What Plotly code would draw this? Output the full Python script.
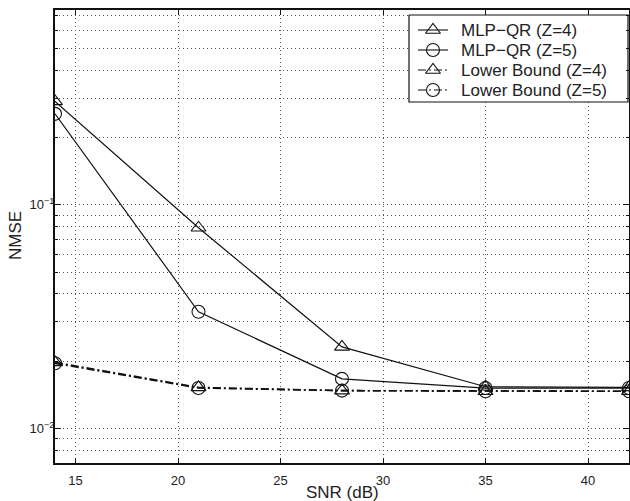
import plotly.graph_objects as go

# SNR points (dB)
snr_db = [14, 21, 28, 35, 42]

# NMSE per method
mlp_qr_z4 = [0.290, 0.079, 0.0232, 0.0154, 0.0153]
mlp_qr_z5 = [0.255, 0.0333, 0.0167, 0.0152, 0.0152]
lower_bound_z4 = [0.0198, 0.0153, 0.0148, 0.0147, 0.0147]
lower_bound_z5 = [0.0196, 0.0152, 0.0148, 0.0147, 0.0147]

series_names = ["MLP\u2212QR (Z=4)", "MLP\u2212QR (Z=5)",
                "Lower Bound (Z=4)", "Lower Bound (Z=5)"]

x_title = "SNR (dB)"
y_title = "NMSE"
x_ticks = [15, 20, 25, 30, 35, 40]
y_major = [0.01, 0.1]
y_major_text = ["10<sup>\u22122</sup>", "10<sup>\u22121</sup>"]
y_minor = [0.008, 0.009, 0.02, 0.03, 0.04, 0.05, 0.06, 0.07, 0.08, 0.09,
           0.2, 0.3, 0.4, 0.5, 0.6, 0.7]

FONT = "Liberation Sans, Arial, Helvetica, sans-serif"
INK = "#111111"
TXT = "#222222"
GRID = "#555555"
DASHDOT = "8px,3px,2px,3px"

W, H = 630, 501
ML, MR, MT, MB = 55, 1, 10, 38
PW, PH = W - ML - MR, H - MT - MB


def px_to_paper(px, py):
    """Page pixel position -> paper coordinates (relative to the plot area)."""
    return (px - ML) / PW, 1 - (py - MT) / PH


fig = go.Figure()

styles = [
    (mlp_qr_z4, "triangle-up-open", "solid", 1.2),
    (mlp_qr_z5, "circle-open", "solid", 1.2),
    (lower_bound_z4, "triangle-up-open", DASHDOT, 1.6),
    (lower_bound_z5, "circle-open", DASHDOT, 1.6),
]

for name, (vals, sym, dash, lw) in zip(series_names, styles):
    fig.add_trace(go.Scatter(
        x=snr_db, y=vals, name=name, mode="lines+markers", showlegend=False,
        line=dict(color=INK, width=lw, dash=dash),
        marker=dict(symbol=sym, size=13, color=INK, line=dict(width=1.1, color=INK)),
    ))

# Boxed legend, laid out in page pixels on a hidden overlay axis pair
box_x0, box_x1, box_y0, box_y1 = 409, 628, 15, 102
row_y0, row_step = 30, 20
sample_x0, sample_x1, text_x = 418, 448, 459

fig.add_trace(go.Scatter(
    x=[box_x0, box_x1, box_x1, box_x0, box_x0],
    y=[box_y0, box_y0, box_y1, box_y1, box_y0],
    xaxis="x2", yaxis="y2", mode="lines", fill="toself", fillcolor="white",
    line=dict(color=INK, width=1.2), showlegend=False, hoverinfo="skip",
))

for i, (name, (vals, sym, dash, lw)) in enumerate(zip(series_names, styles)):
    ry = row_y0 + i * row_step
    fig.add_trace(go.Scatter(
        x=[sample_x0, sample_x1], y=[ry, ry], xaxis="x2", yaxis="y2",
        mode="lines", showlegend=False, hoverinfo="skip",
        line=dict(color=INK, width=1.1, dash=dash),
    ))
    fig.add_trace(go.Scatter(
        x=[(sample_x0 + sample_x1) / 2], y=[ry], xaxis="x2", yaxis="y2",
        mode="markers", showlegend=False, hoverinfo="skip",
        marker=dict(symbol=sym, size=13, color=INK, line=dict(width=1.1, color=INK)),
    ))
    fig.add_annotation(x=text_x, y=ry, xref="x2", yref="y2", text=name,
                       showarrow=False, xanchor="left", yanchor="middle",
                       font=dict(family=FONT, size=17, color=TXT))

# Axis titles, placed in page pixels
tx, ty = px_to_paper(342, 492)
fig.add_annotation(x=tx, y=ty, xref="paper", yref="paper",
                   text=x_title, showarrow=False, xanchor="center", yanchor="middle",
                   font=dict(family=FONT, size=17, color=TXT))
tx, ty = px_to_paper(15, 236)
fig.add_annotation(x=tx, y=ty, xref="paper", yref="paper",
                   text=y_title, showarrow=False, textangle=-90,
                   xanchor="center", yanchor="middle",
                   font=dict(family=FONT, size=17, color=TXT))

fig.update_layout(
    width=W, height=H,
    margin=dict(l=ML, r=MR, t=MT, b=MB),
    paper_bgcolor="white", plot_bgcolor="white",
    font=dict(family=FONT, color=TXT, size=13),
    showlegend=False,
    xaxis=dict(
        range=[14, 42], tickmode="array", tickvals=x_ticks, automargin=False,
        ticks="inside", ticklen=5, tickcolor=INK, tickwidth=1,
        showline=True, linecolor=INK, linewidth=2, mirror="allticks",
        showgrid=True, gridcolor=GRID, gridwidth=1, griddash="1px,3px",
        zeroline=False, ticklabelstandoff=4,
        tickfont=dict(size=13),
    ),
    yaxis=dict(
        type="log", range=[-2.153, -0.1296], automargin=False,
        tickmode="array", tickvals=y_major, ticktext=y_major_text,
        ticks="inside", ticklen=6, tickcolor=INK, tickwidth=1,
        showline=True, linecolor=INK, linewidth=2, mirror="allticks",
        showgrid=True, gridcolor=GRID, gridwidth=1, griddash="1px,3px",
        minor=dict(tickmode="array", tickvals=y_minor, ticks="inside", ticklen=3,
                   tickcolor=INK, showgrid=True, gridcolor=GRID, gridwidth=1,
                   griddash="1px,3px"),
        zeroline=False, ticklabelstandoff=-4,
        tickfont=dict(size=13),
    ),
    xaxis2=dict(overlaying="x", anchor="y", range=[ML, W - MR], visible=False,
                showgrid=False, fixedrange=True),
    yaxis2=dict(overlaying="y", anchor="x", range=[H - MB, MT], visible=False,
                showgrid=False, fixedrange=True),
)

fig.write_html("out.html")
